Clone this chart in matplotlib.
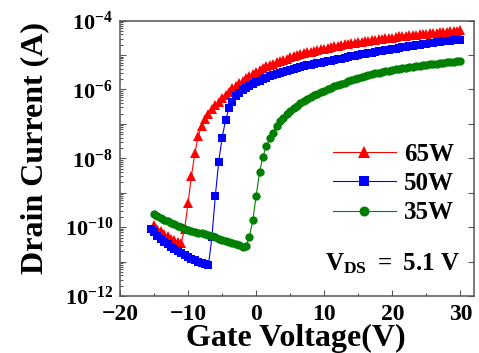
import matplotlib
matplotlib.use("Agg")
import matplotlib.pyplot as plt
import numpy as np
from matplotlib.ticker import FixedLocator, FixedFormatter, LogLocator, NullFormatter, MultipleLocator

plt.rcParams['font.family'] = ['Liberation Serif', 'DejaVu Serif']
plt.rcParams['font.weight'] = 'bold'
plt.rcParams['mathtext.fontset'] = 'custom'
plt.rcParams['mathtext.rm'] = 'Liberation Serif:bold'
plt.rcParams['mathtext.bf'] = 'Liberation Serif:bold'
plt.rcParams['mathtext.it'] = 'Liberation Serif:bold'

# ---------------- data (log10 of drain current) ----------------
vg_65 = [-15, -14.5, -14, -13.5, -13, -12.5, -12, -11.5, -11, -10.5, -10, -9.5, -9, -8.5, -8, -7.5, -7, -6.5, -6, -5.5,
         -5, -4.5, -4, -3.5, -3, -2.5, -2, -1.5, -1, -0.5, 0, 0.5, 1, 1.5, 2, 2.5, 3, 3.5, 4, 4.5,
         5, 5.5, 6, 6.5, 7, 7.5, 8, 8.5, 9, 9.5, 10, 10.5, 11, 11.5, 12, 12.5, 13, 13.5, 14, 14.5,
         15, 15.5, 16, 16.5, 17, 17.5, 18, 18.5, 19, 19.5, 20, 20.5, 21, 21.5, 22, 22.5, 23, 23.5, 24, 24.5,
         25, 25.5, 26, 26.5, 27, 27.5, 28, 28.5, 29, 29.5, 30]
logid_65 = [-9.95, -10.05, -10.12, -10.2, -10.27, -10.33, -10.38, -10.42, -10.45, -10.05, -9.3, -8.5, -7.85, -7.35, -7.05, -6.85, -6.7, -6.57, -6.45, -6.35,
            -6.25, -6.15, -6.06, -5.97, -5.89, -5.81, -5.74, -5.67, -5.6, -5.54, -5.48, -5.43, -5.38, -5.33, -5.29, -5.25, -5.21, -5.17, -5.13, -5.1,
            -5.07, -5.04, -5.01, -4.98, -4.95, -4.92, -4.9, -4.87, -4.85, -4.83, -4.81, -4.79, -4.77, -4.75, -4.73, -4.71, -4.69, -4.68, -4.66, -4.64,
            -4.63, -4.61, -4.6, -4.58, -4.57, -4.55, -4.54, -4.53, -4.51, -4.5, -4.49, -4.48, -4.46, -4.45, -4.44, -4.43, -4.42, -4.41, -4.4, -4.39,
            -4.38, -4.37, -4.36, -4.35, -4.34, -4.33, -4.32, -4.31, -4.3, -4.29, -4.28]

vg_50 = [-15.5] + vg_65
logid_50 = [-10.05, -10.15, -10.25, -10.34, -10.42, -10.5, -10.57, -10.64, -10.7, -10.76, -10.82, -10.87, -10.92, -10.96, -11.0, -11.04, -11.08, -11.1, -10.3, -9.1, -8.1,
            -7.4, -6.9, -6.55, -6.35, -6.2, -6.1, -6.02, -5.95, -5.89, -5.84, -5.79, -5.74, -5.7, -5.66, -5.62, -5.58, -5.55, -5.52, -5.49, -5.46,
            -5.43, -5.4, -5.37, -5.35, -5.32, -5.3, -5.28, -5.26, -5.24, -5.22, -5.2, -5.18, -5.16, -5.14, -5.12, -5.1, -5.08, -5.06, -5.04, -5.02,
            -5.0, -4.98, -4.96, -4.95, -4.93, -4.91, -4.89, -4.88, -4.86, -4.84, -4.82, -4.81, -4.79, -4.78, -4.76, -4.75, -4.73, -4.72, -4.7, -4.69,
            -4.67, -4.66, -4.64, -4.63, -4.61, -4.6, -4.59, -4.58, -4.57, -4.56, -4.55]

vg_35 = vg_65
logid_35 = [-9.62, -9.68, -9.73, -9.78, -9.83, -9.88, -9.92, -9.96, -10.0, -10.04, -10.07, -10.1, -10.13, -10.16, -10.18, -10.21, -10.23, -10.27, -10.3, -10.34,
            -10.37, -10.41, -10.44, -10.47, -10.5, -10.53, -10.58, -10.55, -10.3, -9.8, -9.1, -8.4, -7.95, -7.65, -7.42, -7.25, -7.05, -6.93, -6.82, -6.72,
            -6.62, -6.54, -6.47, -6.4, -6.33, -6.27, -6.22, -6.17, -6.12, -6.07, -6.03, -5.99, -5.95, -5.91, -5.87, -5.83, -5.8, -5.76, -5.73, -5.7,
            -5.67, -5.64, -5.61, -5.58, -5.56, -5.53, -5.51, -5.49, -5.47, -5.45, -5.43, -5.41, -5.4, -5.38, -5.37, -5.35, -5.34, -5.32, -5.31, -5.3,
            -5.28, -5.27, -5.26, -5.25, -5.23, -5.22, -5.21, -5.2, -5.19, -5.18, -5.17]

series_labels = ['65W', '50W', '35W']
y_decades = [-12, -11, -10, -9, -8, -7, -6, -5, -4]
x_ticks = [-20, -10, 0, 10, 20, 30]

# ---------------- figure ----------------
fig = plt.figure(figsize=(4.79, 3.53), dpi=100)
ax = fig.add_axes([0.2505, 0.1615, 0.739, 0.78])

ax.plot(vg_65, 10 ** np.array(logid_65), '-', color='#ff0000', lw=0.8, marker='^', ms=7.5, mew=0, label=series_labels[0])
ax.plot(vg_50, 10 ** np.array(logid_50), '-', color='#0000ff', lw=0.8, marker='s', ms=5.8, mew=0, label=series_labels[1])
ax.plot(vg_35, 10 ** np.array(logid_35), '-', color='#008000', lw=0.8, marker='o', ms=6.0, mew=0, label=series_labels[2])

ax.set_yscale('log')
ax.set_xlim(-20, 32)
ax.set_ylim(1e-12, 1e-4)

ax.yaxis.set_major_locator(FixedLocator([10.0 ** d for d in y_decades]))
ax.yaxis.set_major_formatter(FixedFormatter(
    [r'$\mathbf{10^{%d}}$' % d if d % 2 == 0 else '' for d in y_decades]))
ax.yaxis.set_minor_locator(LogLocator(base=10, subs=np.arange(2, 10), numticks=20))
ax.yaxis.set_minor_formatter(NullFormatter())

ax.xaxis.set_major_locator(FixedLocator(x_ticks))
ax.xaxis.set_minor_locator(MultipleLocator(5))

spine_c = '#555555'
for s in ax.spines.values():
    s.set_color(spine_c)
    s.set_linewidth(1.1)

ax.tick_params(which='both', direction='in', left=True, right=True, top=False, bottom=True,
               color=spine_c, width=0.8)
ax.tick_params(which='major', length=4, pad=4)
ax.tick_params(which='minor', length=2.5, right=False)
ax.tick_params(axis='x', which='major', labelsize=17, pad=5.5)
ax.tick_params(axis='y', which='major', labelsize=16, pad=5)
for lab in ax.get_xticklabels() + ax.get_yticklabels():
    lab.set_fontweight('bold')

ax.set_ylabel('Drain Current (A)', fontsize=23, fontweight='bold')
ax.yaxis.set_label_coords(-0.20, 0.539)
ax.set_xlabel('Gate Voltage(V)', fontsize=23, fontweight='bold')
ax.xaxis.set_label_coords(0.497, -0.100)

leg = ax.legend(loc='upper left', bbox_to_anchor=(333 / 479, 1 - 143 / 353),
                bbox_transform=fig.transFigure, frameon=False, fontsize=18,
                handlelength=2.5, handletextpad=0.35, labelspacing=0.25,
                borderpad=0, borderaxespad=0, numpoints=1, markerscale=1.2)

ax.text(0.579, 0.094, r'$\mathbf{V_{DS}\ =\ 5.1\ V}$', transform=ax.transAxes,
        fontsize=18, ha='left', va='baseline')

fig.savefig('out.png', dpi=100)
